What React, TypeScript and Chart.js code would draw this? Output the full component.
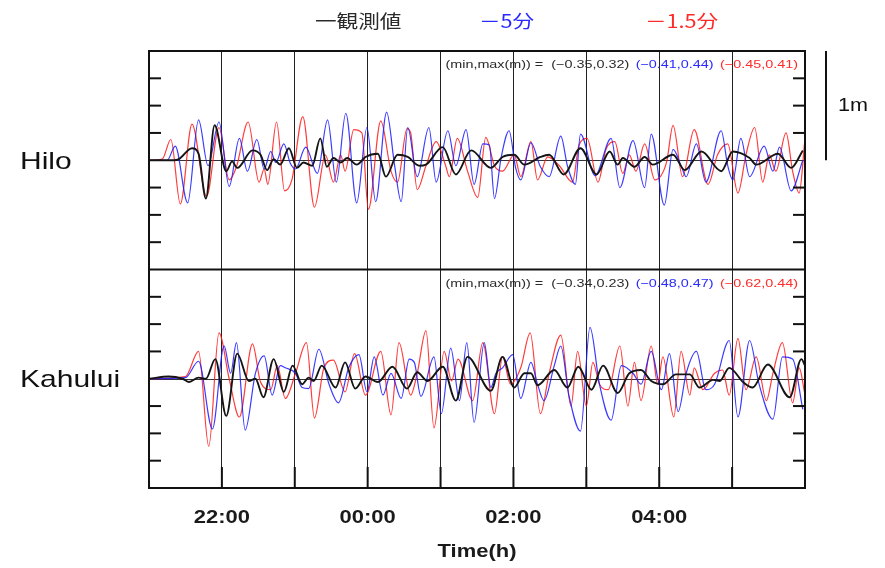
import React, { useEffect, useRef } from 'react';
import { Chart, registerables } from 'chart.js';

Chart.register(...registerables);

type Pt = [number, number];

// ---- labels ----
const legendLabels = ['一観測値', '－5分', '－1.5分'];
const legendX = [315, 479, 645];
const stationNames = ['Hilo', 'Kahului'];
const xTickHours = [22, 24, 26, 28];
const xTickLabels = ['22:00', '00:00', '02:00', '04:00'];
const xTitle = 'Time(h)';
const yTickValues = [-0.75, -0.5, -0.25, 0.25, 0.5, 0.75];
const minMaxPrefix = '(min,max(m)) =  ';
const hiloMinMax = ['(−0.35,0.32)', '(−0.41,0.44)', '(−0.45,0.41)'];
const kahuluiMinMax = ['(−0.34,0.23)', '(−0.48,0.47)', '(−0.62,0.44)'];
const scaleBarLabel = '1m';

// ---- series: [hour (24 = 00:00), sea level (m)] ----
const hiloObs: Pt[] = [[21.00,0],[21.34,0],[21.41,0.01],[21.59,0.11],[21.68,0.06],[21.78,-0.35],[21.90,0.32],[22.06,-0.10],[22.14,-0.01],[22.21,-0.07],[22.42,0.09],[22.53,0.05],[22.62,-0.09],[22.71,0.01],[22.80,-0.04],[22.92,0.11],[23.03,-0.07],[23.12,-0.02],[23.24,-0.05],[23.35,0.20],[23.44,-0.06],[23.53,0.02],[23.63,-0.02],[23.72,0.02],[23.85,-0.04],[23.97,0.03],[24.14,0.06],[24.25,-0.15],[24.41,0.05],[24.55,0.03],[24.71,-0.05],[24.80,-0.04],[25.03,0.12],[25.21,-0.13],[25.42,0.09],[25.69,-0.07],[25.85,0.03],[26.01,0.05],[26.15,-0.04],[26.37,0.03],[26.49,0.05],[26.69,-0.13],[26.92,0.11],[27.14,-0.13],[27.32,0.08],[27.43,-0.04],[27.50,0.02],[27.66,-0.06],[27.80,0.03],[27.91,-0.04],[28.19,0.05],[28.35,-0.09],[28.58,0.08],[28.85,-0.10],[29.01,0.08],[29.24,0.02],[29.33,-0.04],[29.63,0.06],[29.81,-0.07],[29.97,0.09]];
const hiloMinus5: Pt[] = [[21.00,0],[21.25,0],[21.36,0.13],[21.53,-0.39],[21.68,0.37],[21.81,-0.05],[21.96,0.35],[22.10,-0.24],[22.24,0.20],[22.35,-0.10],[22.48,0.19],[22.58,-0.08],[22.67,0.08],[22.74,-0.02],[22.85,0.15],[22.94,-0.03],[23.01,-0.08],[23.15,0.12],[23.31,-0.12],[23.45,0.37],[23.57,-0.20],[23.70,0.43],[23.85,-0.39],[23.99,0.30],[24.11,-0.38],[24.26,0.44],[24.37,-0.05],[24.46,-0.38],[24.55,0.30],[24.68,-0.15],[24.84,0.30],[24.94,-0.20],[25.10,0.27],[25.21,-0.05],[25.35,0.28],[25.46,-0.22],[25.58,0.15],[25.67,0.14],[25.74,-0.35],[25.83,0.02],[25.94,0.27],[26.03,-0.07],[26.10,-0.18],[26.24,0.16],[26.37,-0.06],[26.49,-0.15],[26.65,0.22],[26.74,-0.05],[26.85,-0.22],[26.92,0.24],[27.12,-0.14],[27.34,0.20],[27.46,-0.25],[27.64,0.18],[27.80,-0.25],[27.89,0.24],[28.07,-0.41],[28.19,0.10],[28.30,-0.05],[28.37,-0.15],[28.51,0.15],[28.64,-0.20],[28.85,0.27],[28.94,-0.05],[29.01,-0.18],[29.12,0.20],[29.24,-0.15],[29.44,0.13],[29.56,-0.10],[29.65,0.12],[29.81,-0.28],[29.97,0.0]];
const hiloMinus15: Pt[] = [[21.00,0],[21.18,0.01],[21.30,0.19],[21.43,-0.40],[21.59,0.33],[21.79,-0.33],[21.96,0.30],[22.10,-0.18],[22.20,-0.06],[22.36,0.35],[22.51,-0.20],[22.58,-0.08],[22.63,-0.22],[22.75,0.35],[22.86,-0.28],[22.96,-0.18],[23.11,0.40],[23.27,-0.43],[23.42,0.05],[23.53,-0.20],[23.63,0.05],[23.69,-0.10],[23.81,0.28],[23.92,0.25],[24.01,-0.45],[24.18,0.36],[24.32,-0.10],[24.41,-0.20],[24.54,0.29],[24.59,0.25],[24.68,-0.27],[24.80,-0.05],[24.94,0.17],[25.07,-0.05],[25.12,-0.15],[25.23,0.20],[25.37,-0.10],[25.51,-0.34],[25.62,0.21],[25.74,-0.05],[25.85,-0.10],[26.01,0.05],[26.10,-0.15],[26.24,0.17],[26.33,-0.18],[26.47,0.03],[26.63,-0.05],[26.81,-0.20],[26.90,0.14],[27.01,0.20],[27.16,-0.20],[27.27,0.10],[27.39,0.17],[27.50,-0.12],[27.59,0.05],[27.68,-0.10],[27.80,0.15],[27.94,-0.18],[28.10,-0.02],[28.19,0.32],[28.32,-0.15],[28.48,0.28],[28.67,-0.22],[28.80,0.05],[28.94,0.15],[29.08,-0.30],[29.19,0.05],[29.31,0.30],[29.42,-0.20],[29.51,0.05],[29.60,-0.10],[29.74,0.25],[29.83,-0.10],[29.92,-0.30],[30.00,0.20]];

const kahuluiObs: Pt[] = [[21.00,0],[21.27,0.02],[21.46,0.0],[21.55,-0.03],[21.68,0.01],[21.78,0.0],[21.91,0.18],[22.06,-0.34],[22.21,0.23],[22.37,-0.02],[22.46,0.0],[22.57,-0.17],[22.71,0.18],[22.85,-0.12],[22.97,0.12],[23.10,-0.05],[23.19,0.01],[23.26,-0.02],[23.37,0.12],[23.56,-0.08],[23.69,0.15],[23.83,-0.09],[23.97,0.02],[24.14,-0.03],[24.34,0.11],[24.54,-0.09],[24.68,0.06],[24.82,-0.02],[25.03,0.11],[25.21,-0.20],[25.37,0.20],[25.69,-0.11],[25.85,0.20],[26.01,-0.08],[26.15,0.05],[26.24,0.05],[26.33,-0.06],[26.56,0.08],[26.74,-0.08],[26.89,0.11],[27.07,-0.10],[27.23,0.12],[27.43,-0.13],[27.59,0.05],[27.75,0.08],[27.89,-0.02],[28.05,-0.05],[28.23,0.04],[28.42,0.04],[28.55,-0.08],[28.74,-0.01],[28.83,-0.02],[28.96,0.10],[29.15,-0.03],[29.28,-0.08],[29.49,0.13],[29.79,-0.17],[29.95,0.18],[30.00,0.12]];
const kahuluiMinus5: Pt[] = [[21.00,0],[21.50,0.01],[21.68,0.16],[21.87,-0.46],[22.03,0.30],[22.12,0.05],[22.20,0.33],[22.32,-0.47],[22.46,0.05],[22.58,0.21],[22.69,-0.15],[22.80,0.12],[22.87,0.10],[23.01,0.05],[23.10,-0.08],[23.19,-0.09],[23.33,0.27],[23.47,-0.05],[23.60,-0.22],[23.74,0.10],[23.88,0.22],[23.99,-0.12],[24.09,0.20],[24.21,-0.15],[24.32,0.05],[24.46,-0.18],[24.57,0.18],[24.64,0.15],[24.73,-0.16],[24.91,0.20],[25.01,-0.32],[25.14,0.28],[25.26,-0.20],[25.36,0.33],[25.46,-0.40],[25.60,0.33],[25.69,-0.08],[25.76,0.05],[25.85,0.10],[25.99,0.22],[26.10,-0.18],[26.24,0.15],[26.33,-0.05],[26.42,-0.20],[26.56,0.12],[26.65,0.30],[26.76,-0.15],[26.92,-0.48],[27.05,0.47],[27.18,-0.05],[27.34,-0.38],[27.48,0.12],[27.64,0.05],[27.75,-0.05],[27.89,0.25],[28.03,-0.10],[28.14,0.23],[28.26,-0.30],[28.37,0.05],[28.51,0.25],[28.64,-0.10],[28.76,-0.05],[28.96,0.35],[29.08,-0.35],[29.24,0.35],[29.37,-0.05],[29.56,-0.37],[29.69,0.20],[29.83,0.18],[29.97,-0.28]];
const kahuluiMinus15: Pt[] = [[21.00,0],[21.50,0.02],[21.68,0.25],[21.82,-0.62],[21.96,0.42],[22.10,0.0],[22.24,-0.35],[22.42,0.32],[22.53,-0.03],[22.67,-0.10],[22.76,0.12],[22.87,-0.18],[23.01,0.05],[23.16,0.33],[23.27,-0.36],[23.40,0.10],[23.53,0.17],[23.69,-0.12],[23.82,0.23],[23.97,-0.15],[24.18,0.25],[24.32,-0.33],[24.43,0.33],[24.59,-0.15],[24.68,0.05],[24.80,0.44],[24.91,-0.45],[25.05,0.25],[25.15,-0.02],[25.24,0.18],[25.44,-0.20],[25.58,0.33],[25.74,-0.32],[25.85,0.20],[25.96,-0.05],[26.10,0.10],[26.23,0.42],[26.37,-0.32],[26.49,0.05],[26.65,0.40],[26.79,-0.25],[26.88,0.25],[27.00,-0.25],[27.09,0.15],[27.18,-0.05],[27.30,-0.10],[27.46,0.30],[27.57,-0.25],[27.66,0.15],[27.75,-0.20],[27.89,0.30],[27.98,-0.05],[28.05,0.20],[28.20,-0.35],[28.30,0.25],[28.42,-0.15],[28.48,0.10],[28.60,-0.10],[28.76,0.05],[28.87,0.08],[28.96,-0.15],[29.08,0.37],[29.19,-0.10],[29.33,0.20],[29.47,-0.20],[29.56,0.05],[29.69,0.33],[29.83,-0.22],[29.92,0.10],[30.00,-0.15]];

const COLORS = {
  obs: '#151515',
  m5: 'rgba(25,25,255,0.85)',
  m15: 'rgba(255,25,25,0.85)',
  obsText: '#2a2a2a',
  m5Text: '#2a2aff',
  m15Text: '#ff2a2a',
};
const SANS = '"Liberation Sans", Arial, Helvetica, sans-serif';
const CJK = '"Noto Sans CJK JP", "Noto Sans", sans-serif';

const toXY = (s: Pt[]) => s.map(([x, y]) => ({ x, y }));

function stretchText(
  ctx: CanvasRenderingContext2D, text: string, x: number, y: number,
  font: string, color: string, align: 'left' | 'center' | 'right', sx = 1.22,
): number {
  ctx.save();
  ctx.font = font;
  ctx.fillStyle = color;
  ctx.textBaseline = 'middle';
  ctx.textAlign = 'left';
  const w = ctx.measureText(text).width * sx;
  const left = align === 'left' ? x : align === 'center' ? x - w / 2 : x - w;
  ctx.translate(left, y);
  ctx.scale(sx, 1);
  ctx.fillText(text, 0, 0);
  ctx.restore();
  return w;
}

function seg(ctx: CanvasRenderingContext2D, x1: number, y1: number, x2: number, y2: number) {
  ctx.beginPath();
  ctx.moveTo(x1, y1);
  ctx.lineTo(x2, y2);
  ctx.stroke();
}

const decorPlugin = {
  id: 'decor',
  beforeDatasetsDraw(chart: any) {
    const { ctx, chartArea: a, scales } = chart;
    ctx.save();
    ctx.strokeStyle = '#333';
    ctx.lineWidth = 1;
    [scales.yHilo, scales.yKahului].forEach((s: any) => {
      const py = Math.round(s.getPixelForValue(0)) + 0.5;
      seg(ctx, a.left, py, a.right, py);
    });
    ctx.restore();
  },
  afterDatasetsDraw(chart: any) {
    const { ctx, chartArea: a, scales } = chart;
    const x = scales.x;
    const panels = [scales.yHilo, scales.yKahului];
    ctx.save();
    ctx.strokeStyle = '#111';
    ctx.lineWidth = 2;
    // frame and panel separator
    ctx.strokeRect(a.left, a.top, a.right - a.left, a.bottom - a.top);
    seg(ctx, a.left, scales.yHilo.bottom, a.right, scales.yHilo.bottom);
    // y ticks (inward, both sides)
    panels.forEach((s: any) => {
      yTickValues.forEach((v) => {
        const py = s.getPixelForValue(v);
        seg(ctx, a.left, py, a.left + 12, py);
        seg(ctx, a.right - 12, py, a.right, py);
      });
    });
    // x ticks on bottom (inward)
    x.ticks.forEach((t: any) => {
      if (t.value <= x.min || t.value >= x.max) return;
      const px = x.getPixelForValue(t.value);
      seg(ctx, px, a.bottom, px, a.bottom - 21);
    });
    // 1 m scale bar
    const barX = a.right + 21;
    seg(ctx, barX, scales.yHilo.getPixelForValue(1), barX, scales.yHilo.getPixelForValue(0));
    ctx.restore();

    // texts
    stretchText(ctx, scaleBarLabel, barX + 12, scales.yHilo.getPixelForValue(0.5), `18px ${SANS}`, '#111', 'left', 1.2);
    stationNames.forEach((name, i) => {
      stretchText(ctx, name, 20, panels[i].getPixelForValue(0) + 2, `24px ${SANS}`, '#111', 'left', 1.25);
    });
    [hiloMinMax, kahuluiMinMax].forEach((mm, i) => {
      const py = panels[i].top + 14;
      let right = a.right - 7;
      const cols = [COLORS.obsText, COLORS.m5Text, COLORS.m15Text];
      for (let k = 2; k >= 0; k--) {
        const txt = k === 0 ? minMaxPrefix + mm[0] : mm[k];
        const w = stretchText(ctx, txt, right, py, `11.5px ${SANS}`, cols[k], 'right', 1.25);
        right -= w + 6.5;
      }
    });
    xTickHours.forEach((h, i) => {
      stretchText(ctx, xTickLabels[i], x.getPixelForValue(h), a.bottom + 30, `bold 18px ${SANS}`, '#1a1a1a', 'center', 1.22);
    });
    stretchText(ctx, xTitle, (a.left + a.right) / 2, a.bottom + 64, `bold 18px ${SANS}`, '#1a1a1a', 'center', 1.22);
    const legendCols = [COLORS.obsText, COLORS.m5Text, COLORS.m15Text];
    legendLabels.forEach((lab, i) => {
      stretchText(ctx, lab, legendX[i], 21, `18px ${CJK}`, legendCols[i], 'left', 1.2);
    });
  },
};

const hiddenAxis = (extra: any) => ({
  type: 'linear',
  display: true,
  min: -1,
  max: 1,
  stack: 'panels',
  stackWeight: 1,
  ticks: { display: false },
  grid: { display: false },
  border: { display: false },
  afterFit: (s: any) => { s.width = 0; },
  ...extra,
});

export default function App() {
  const ref = useRef<HTMLCanvasElement>(null);
  useEffect(() => {
    const mk = (data: Pt[], color: string, width: number, yAxisID: string) => ({
      data: toXY(data),
      borderColor: color,
      borderWidth: width,
      pointRadius: 0,
      cubicInterpolationMode: 'monotone' as const,
      fill: false,
      yAxisID,
    });
    const chart = new Chart(ref.current!, {
      type: 'line',
      data: {
        datasets: [
          mk(hiloObs, COLORS.obs, 1.9, 'yHilo'),
          mk(kahuluiObs, COLORS.obs, 1.9, 'yKahului'),
          mk(hiloMinus5, COLORS.m5, 1.2, 'yHilo'),
          mk(kahuluiMinus5, COLORS.m5, 1.2, 'yKahului'),
          mk(hiloMinus15, COLORS.m15, 1.2, 'yHilo'),
          mk(kahuluiMinus15, COLORS.m15, 1.2, 'yKahului'),
        ],
      },
      options: {
        responsive: false,
        animation: false,
        events: [],
        layout: { padding: { left: 149, right: 80, top: 51, bottom: 80 } },
        plugins: { legend: { display: false }, tooltip: { enabled: false } },
        scales: {
          x: {
            type: 'linear',
            min: 21,
            max: 30,
            ticks: { display: false, stepSize: 1 },
            grid: { display: true, color: '#222', lineWidth: 1, drawTicks: false },
            border: { display: false },
            afterFit: (s: any) => { s.height = 0; },
          },
          yKahului: hiddenAxis({}),
          yHilo: hiddenAxis({}),
        } as any,
      },
      plugins: [decorPlugin],
    } as any);
    return () => chart.destroy();
  }, []);
  return (
    <div style={{ position: 'fixed', left: 0, top: 0, width: 885, height: 568, background: '#fff' }}>
      <canvas ref={ref} width={885} height={568} style={{ display: 'block' }} />
    </div>
  );
}
